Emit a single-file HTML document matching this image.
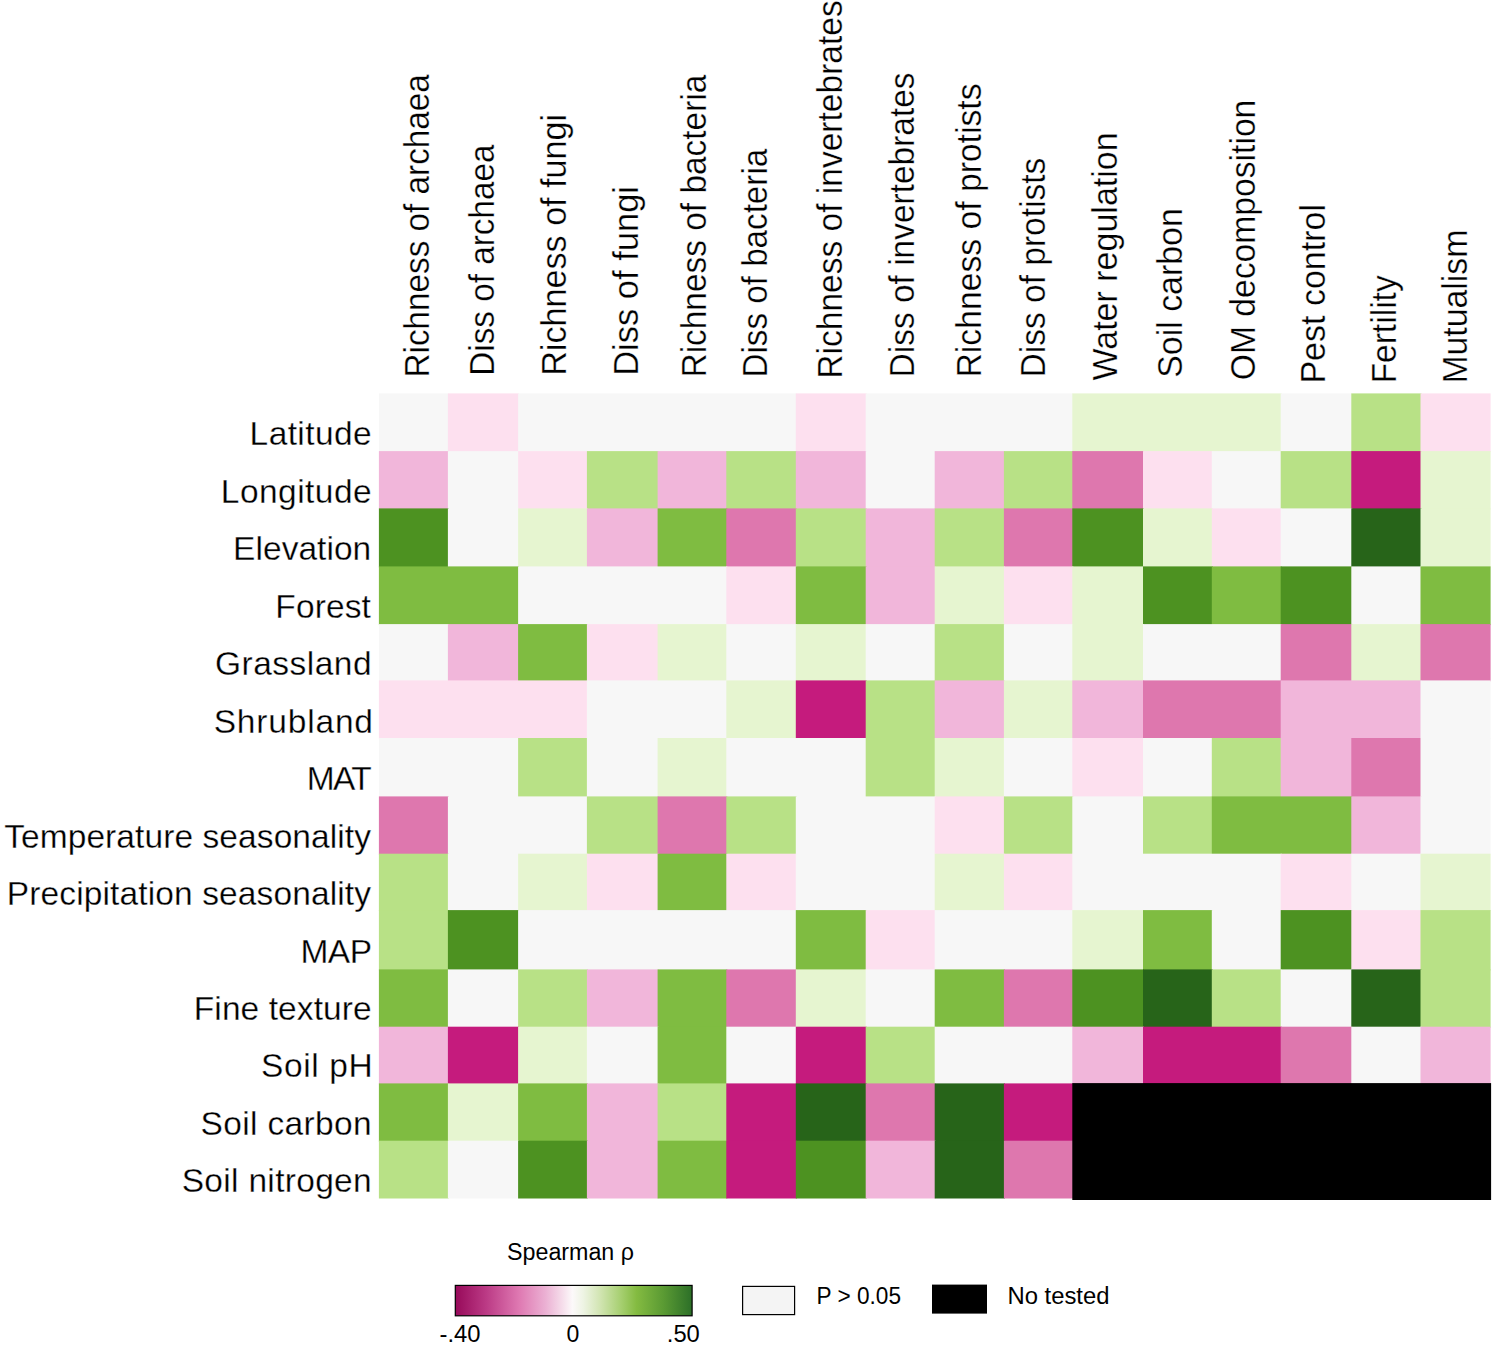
<!DOCTYPE html>
<html lang="en"><head><meta charset="utf-8"><title>Spearman correlation heatmap</title>
<style>
html,body{margin:0;padding:0;background:#fff;}
body{width:1495px;height:1352px;overflow:hidden;}
svg{display:block;}
text{font-family:"Liberation Sans",Arial,Helvetica,sans-serif;fill:#000;}
.rl{font-size:33.5px;text-anchor:end;stroke:#fff;stroke-width:0.3px;paint-order:fill stroke;}
.cl{font-size:34.2px;text-anchor:start;stroke:#fff;stroke-width:0.3px;paint-order:fill stroke;}
.lg{font-size:23px;}
</style></head><body>
<svg width="1495" height="1352" viewBox="0 0 1495 1352" role="img" aria-label="Spearman correlation heat map">
<defs><linearGradient id="piyg" x1="0" y1="0" x2="1" y2="0">
<stop offset="0" stop-color="#970a5a"/>
<stop offset="0.13" stop-color="#bb3a85"/>
<stop offset="0.27" stop-color="#df79b2"/>
<stop offset="0.38" stop-color="#ebb0d3"/>
<stop offset="0.45" stop-color="#f5dcea"/>
<stop offset="0.495" stop-color="#fcf9fa"/>
<stop offset="0.54" stop-color="#eef4e4"/>
<stop offset="0.61" stop-color="#d2e5b3"/>
<stop offset="0.7" stop-color="#a6cf70"/>
<stop offset="0.765" stop-color="#84bb41"/>
<stop offset="0.88" stop-color="#5a9a33"/>
<stop offset="1" stop-color="#2c6f28"/>
</linearGradient></defs>
<rect x="0" y="0" width="1495" height="1352" fill="#ffffff"/>
<g>
<rect x="378.9" y="393.4" width="70.0" height="58.7" fill="#f7f7f7"/>
<rect x="447.9" y="393.4" width="71.2" height="58.7" fill="#fde0ef"/>
<rect x="518.1" y="393.4" width="278.7" height="58.7" fill="#f7f7f7"/>
<rect x="795.8" y="393.4" width="70.9" height="58.7" fill="#fde0ef"/>
<rect x="865.7" y="393.4" width="207.6" height="58.7" fill="#f7f7f7"/>
<rect x="1072.3" y="393.4" width="209.4" height="58.7" fill="#e6f5d0"/>
<rect x="1280.7" y="393.4" width="71.6" height="58.7" fill="#f7f7f7"/>
<rect x="1351.3" y="393.4" width="70.2" height="58.7" fill="#b8e186"/>
<rect x="1420.5" y="393.4" width="70.1" height="58.7" fill="#fde0ef"/>
<rect x="378.9" y="451.1" width="70.0" height="58.3" fill="#f1b6da"/>
<rect x="447.9" y="451.1" width="71.2" height="58.3" fill="#f7f7f7"/>
<rect x="518.1" y="451.1" width="69.8" height="58.3" fill="#fde0ef"/>
<rect x="586.9" y="451.1" width="71.7" height="58.3" fill="#b8e186"/>
<rect x="657.6" y="451.1" width="69.7" height="58.3" fill="#f1b6da"/>
<rect x="726.3" y="451.1" width="70.5" height="58.3" fill="#b8e186"/>
<rect x="795.8" y="451.1" width="70.9" height="58.3" fill="#f1b6da"/>
<rect x="865.7" y="451.1" width="70.0" height="58.3" fill="#f7f7f7"/>
<rect x="934.7" y="451.1" width="70.2" height="58.3" fill="#f1b6da"/>
<rect x="1003.9" y="451.1" width="69.4" height="58.3" fill="#b8e186"/>
<rect x="1072.3" y="451.1" width="71.7" height="58.3" fill="#de77ae"/>
<rect x="1143.0" y="451.1" width="69.8" height="58.3" fill="#fde0ef"/>
<rect x="1211.8" y="451.1" width="69.9" height="58.3" fill="#f7f7f7"/>
<rect x="1280.7" y="451.1" width="71.6" height="58.3" fill="#b8e186"/>
<rect x="1351.3" y="451.1" width="70.2" height="58.3" fill="#c51b7d"/>
<rect x="1420.5" y="451.1" width="70.1" height="58.3" fill="#e6f5d0"/>
<rect x="378.9" y="508.4" width="70.0" height="59.0" fill="#4d9221"/>
<rect x="447.9" y="508.4" width="71.2" height="59.0" fill="#f7f7f7"/>
<rect x="518.1" y="508.4" width="69.8" height="59.0" fill="#e6f5d0"/>
<rect x="586.9" y="508.4" width="71.7" height="59.0" fill="#f1b6da"/>
<rect x="657.6" y="508.4" width="69.7" height="59.0" fill="#7fbc41"/>
<rect x="726.3" y="508.4" width="70.5" height="59.0" fill="#de77ae"/>
<rect x="795.8" y="508.4" width="70.9" height="59.0" fill="#b8e186"/>
<rect x="865.7" y="508.4" width="70.0" height="59.0" fill="#f1b6da"/>
<rect x="934.7" y="508.4" width="70.2" height="59.0" fill="#b8e186"/>
<rect x="1003.9" y="508.4" width="69.4" height="59.0" fill="#de77ae"/>
<rect x="1072.3" y="508.4" width="71.7" height="59.0" fill="#4d9221"/>
<rect x="1143.0" y="508.4" width="69.8" height="59.0" fill="#e6f5d0"/>
<rect x="1211.8" y="508.4" width="69.9" height="59.0" fill="#fde0ef"/>
<rect x="1280.7" y="508.4" width="71.6" height="59.0" fill="#f7f7f7"/>
<rect x="1351.3" y="508.4" width="70.2" height="59.0" fill="#276419"/>
<rect x="1420.5" y="508.4" width="70.1" height="59.0" fill="#e6f5d0"/>
<rect x="378.9" y="566.4" width="140.2" height="58.7" fill="#7fbc41"/>
<rect x="518.1" y="566.4" width="209.2" height="58.7" fill="#f7f7f7"/>
<rect x="726.3" y="566.4" width="70.5" height="58.7" fill="#fde0ef"/>
<rect x="795.8" y="566.4" width="70.9" height="58.7" fill="#7fbc41"/>
<rect x="865.7" y="566.4" width="70.0" height="58.7" fill="#f1b6da"/>
<rect x="934.7" y="566.4" width="70.2" height="58.7" fill="#e6f5d0"/>
<rect x="1003.9" y="566.4" width="69.4" height="58.7" fill="#fde0ef"/>
<rect x="1072.3" y="566.4" width="71.7" height="58.7" fill="#e6f5d0"/>
<rect x="1143.0" y="566.4" width="69.8" height="58.7" fill="#4d9221"/>
<rect x="1211.8" y="566.4" width="69.9" height="58.7" fill="#7fbc41"/>
<rect x="1280.7" y="566.4" width="71.6" height="58.7" fill="#4d9221"/>
<rect x="1351.3" y="566.4" width="70.2" height="58.7" fill="#f7f7f7"/>
<rect x="1420.5" y="566.4" width="70.1" height="58.7" fill="#7fbc41"/>
<rect x="378.9" y="624.1" width="70.0" height="57.3" fill="#f7f7f7"/>
<rect x="447.9" y="624.1" width="71.2" height="57.3" fill="#f1b6da"/>
<rect x="518.1" y="624.1" width="69.8" height="57.3" fill="#7fbc41"/>
<rect x="586.9" y="624.1" width="71.7" height="57.3" fill="#fde0ef"/>
<rect x="657.6" y="624.1" width="69.7" height="57.3" fill="#e6f5d0"/>
<rect x="726.3" y="624.1" width="70.5" height="57.3" fill="#f7f7f7"/>
<rect x="795.8" y="624.1" width="70.9" height="57.3" fill="#e6f5d0"/>
<rect x="865.7" y="624.1" width="70.0" height="57.3" fill="#f7f7f7"/>
<rect x="934.7" y="624.1" width="70.2" height="57.3" fill="#b8e186"/>
<rect x="1003.9" y="624.1" width="69.4" height="57.3" fill="#f7f7f7"/>
<rect x="1072.3" y="624.1" width="71.7" height="57.3" fill="#e6f5d0"/>
<rect x="1143.0" y="624.1" width="138.7" height="57.3" fill="#f7f7f7"/>
<rect x="1280.7" y="624.1" width="71.6" height="57.3" fill="#de77ae"/>
<rect x="1351.3" y="624.1" width="70.2" height="57.3" fill="#e6f5d0"/>
<rect x="1420.5" y="624.1" width="70.1" height="57.3" fill="#de77ae"/>
<rect x="378.9" y="680.4" width="209.0" height="58.6" fill="#fde0ef"/>
<rect x="586.9" y="680.4" width="140.4" height="58.6" fill="#f7f7f7"/>
<rect x="726.3" y="680.4" width="70.5" height="58.6" fill="#e6f5d0"/>
<rect x="795.8" y="680.4" width="70.9" height="58.6" fill="#c51b7d"/>
<rect x="865.7" y="680.4" width="70.0" height="58.6" fill="#b8e186"/>
<rect x="934.7" y="680.4" width="70.2" height="58.6" fill="#f1b6da"/>
<rect x="1003.9" y="680.4" width="69.4" height="58.6" fill="#e6f5d0"/>
<rect x="1072.3" y="680.4" width="71.7" height="58.6" fill="#f1b6da"/>
<rect x="1143.0" y="680.4" width="138.7" height="58.6" fill="#de77ae"/>
<rect x="1280.7" y="680.4" width="140.8" height="58.6" fill="#f1b6da"/>
<rect x="1420.5" y="680.4" width="70.1" height="58.6" fill="#f7f7f7"/>
<rect x="378.9" y="738.0" width="140.2" height="59.4" fill="#f7f7f7"/>
<rect x="518.1" y="738.0" width="69.8" height="59.4" fill="#b8e186"/>
<rect x="586.9" y="738.0" width="71.7" height="59.4" fill="#f7f7f7"/>
<rect x="657.6" y="738.0" width="69.7" height="59.4" fill="#e6f5d0"/>
<rect x="726.3" y="738.0" width="140.4" height="59.4" fill="#f7f7f7"/>
<rect x="865.7" y="738.0" width="70.0" height="59.4" fill="#b8e186"/>
<rect x="934.7" y="738.0" width="70.2" height="59.4" fill="#e6f5d0"/>
<rect x="1003.9" y="738.0" width="69.4" height="59.4" fill="#f7f7f7"/>
<rect x="1072.3" y="738.0" width="71.7" height="59.4" fill="#fde0ef"/>
<rect x="1143.0" y="738.0" width="69.8" height="59.4" fill="#f7f7f7"/>
<rect x="1211.8" y="738.0" width="69.9" height="59.4" fill="#b8e186"/>
<rect x="1280.7" y="738.0" width="71.6" height="59.4" fill="#f1b6da"/>
<rect x="1351.3" y="738.0" width="70.2" height="59.4" fill="#de77ae"/>
<rect x="1420.5" y="738.0" width="70.1" height="59.4" fill="#f7f7f7"/>
<rect x="378.9" y="796.4" width="70.0" height="58.3" fill="#de77ae"/>
<rect x="447.9" y="796.4" width="140.0" height="58.3" fill="#f7f7f7"/>
<rect x="586.9" y="796.4" width="71.7" height="58.3" fill="#b8e186"/>
<rect x="657.6" y="796.4" width="69.7" height="58.3" fill="#de77ae"/>
<rect x="726.3" y="796.4" width="70.5" height="58.3" fill="#b8e186"/>
<rect x="795.8" y="796.4" width="139.9" height="58.3" fill="#f7f7f7"/>
<rect x="934.7" y="796.4" width="70.2" height="58.3" fill="#fde0ef"/>
<rect x="1003.9" y="796.4" width="69.4" height="58.3" fill="#b8e186"/>
<rect x="1072.3" y="796.4" width="71.7" height="58.3" fill="#f7f7f7"/>
<rect x="1143.0" y="796.4" width="69.8" height="58.3" fill="#b8e186"/>
<rect x="1211.8" y="796.4" width="140.5" height="58.3" fill="#7fbc41"/>
<rect x="1351.3" y="796.4" width="70.2" height="58.3" fill="#f1b6da"/>
<rect x="1420.5" y="796.4" width="70.1" height="58.3" fill="#f7f7f7"/>
<rect x="378.9" y="853.7" width="70.0" height="57.4" fill="#b8e186"/>
<rect x="447.9" y="853.7" width="71.2" height="57.4" fill="#f7f7f7"/>
<rect x="518.1" y="853.7" width="69.8" height="57.4" fill="#e6f5d0"/>
<rect x="586.9" y="853.7" width="71.7" height="57.4" fill="#fde0ef"/>
<rect x="657.6" y="853.7" width="69.7" height="57.4" fill="#7fbc41"/>
<rect x="726.3" y="853.7" width="70.5" height="57.4" fill="#fde0ef"/>
<rect x="795.8" y="853.7" width="139.9" height="57.4" fill="#f7f7f7"/>
<rect x="934.7" y="853.7" width="70.2" height="57.4" fill="#e6f5d0"/>
<rect x="1003.9" y="853.7" width="69.4" height="57.4" fill="#fde0ef"/>
<rect x="1072.3" y="853.7" width="209.4" height="57.4" fill="#f7f7f7"/>
<rect x="1280.7" y="853.7" width="71.6" height="57.4" fill="#fde0ef"/>
<rect x="1351.3" y="853.7" width="70.2" height="57.4" fill="#f7f7f7"/>
<rect x="1420.5" y="853.7" width="70.1" height="57.4" fill="#e6f5d0"/>
<rect x="378.9" y="910.1" width="70.0" height="60.3" fill="#b8e186"/>
<rect x="447.9" y="910.1" width="71.2" height="60.3" fill="#4d9221"/>
<rect x="518.1" y="910.1" width="278.7" height="60.3" fill="#f7f7f7"/>
<rect x="795.8" y="910.1" width="70.9" height="60.3" fill="#7fbc41"/>
<rect x="865.7" y="910.1" width="70.0" height="60.3" fill="#fde0ef"/>
<rect x="934.7" y="910.1" width="138.6" height="60.3" fill="#f7f7f7"/>
<rect x="1072.3" y="910.1" width="71.7" height="60.3" fill="#e6f5d0"/>
<rect x="1143.0" y="910.1" width="69.8" height="60.3" fill="#7fbc41"/>
<rect x="1211.8" y="910.1" width="69.9" height="60.3" fill="#f7f7f7"/>
<rect x="1280.7" y="910.1" width="71.6" height="60.3" fill="#4d9221"/>
<rect x="1351.3" y="910.1" width="70.2" height="60.3" fill="#fde0ef"/>
<rect x="1420.5" y="910.1" width="70.1" height="60.3" fill="#b8e186"/>
<rect x="378.9" y="969.4" width="70.0" height="58.3" fill="#7fbc41"/>
<rect x="447.9" y="969.4" width="71.2" height="58.3" fill="#f7f7f7"/>
<rect x="518.1" y="969.4" width="69.8" height="58.3" fill="#b8e186"/>
<rect x="586.9" y="969.4" width="71.7" height="58.3" fill="#f1b6da"/>
<rect x="657.6" y="969.4" width="69.7" height="58.3" fill="#7fbc41"/>
<rect x="726.3" y="969.4" width="70.5" height="58.3" fill="#de77ae"/>
<rect x="795.8" y="969.4" width="70.9" height="58.3" fill="#e6f5d0"/>
<rect x="865.7" y="969.4" width="70.0" height="58.3" fill="#f7f7f7"/>
<rect x="934.7" y="969.4" width="70.2" height="58.3" fill="#7fbc41"/>
<rect x="1003.9" y="969.4" width="69.4" height="58.3" fill="#de77ae"/>
<rect x="1072.3" y="969.4" width="71.7" height="58.3" fill="#4d9221"/>
<rect x="1143.0" y="969.4" width="69.8" height="58.3" fill="#276419"/>
<rect x="1211.8" y="969.4" width="69.9" height="58.3" fill="#b8e186"/>
<rect x="1280.7" y="969.4" width="71.6" height="58.3" fill="#f7f7f7"/>
<rect x="1351.3" y="969.4" width="70.2" height="58.3" fill="#276419"/>
<rect x="1420.5" y="969.4" width="70.1" height="58.3" fill="#b8e186"/>
<rect x="378.9" y="1026.7" width="70.0" height="57.7" fill="#f1b6da"/>
<rect x="447.9" y="1026.7" width="71.2" height="57.7" fill="#c51b7d"/>
<rect x="518.1" y="1026.7" width="69.8" height="57.7" fill="#e6f5d0"/>
<rect x="586.9" y="1026.7" width="71.7" height="57.7" fill="#f7f7f7"/>
<rect x="657.6" y="1026.7" width="69.7" height="57.7" fill="#7fbc41"/>
<rect x="726.3" y="1026.7" width="70.5" height="57.7" fill="#f7f7f7"/>
<rect x="795.8" y="1026.7" width="70.9" height="57.7" fill="#c51b7d"/>
<rect x="865.7" y="1026.7" width="70.0" height="57.7" fill="#b8e186"/>
<rect x="934.7" y="1026.7" width="138.6" height="57.7" fill="#f7f7f7"/>
<rect x="1072.3" y="1026.7" width="71.7" height="57.7" fill="#f1b6da"/>
<rect x="1143.0" y="1026.7" width="138.7" height="57.7" fill="#c51b7d"/>
<rect x="1280.7" y="1026.7" width="71.6" height="57.7" fill="#de77ae"/>
<rect x="1351.3" y="1026.7" width="70.2" height="57.7" fill="#f7f7f7"/>
<rect x="1420.5" y="1026.7" width="70.1" height="57.7" fill="#f1b6da"/>
<rect x="378.9" y="1083.4" width="70.0" height="58.3" fill="#7fbc41"/>
<rect x="447.9" y="1083.4" width="71.2" height="58.3" fill="#e6f5d0"/>
<rect x="518.1" y="1083.4" width="69.8" height="58.3" fill="#7fbc41"/>
<rect x="586.9" y="1083.4" width="71.7" height="58.3" fill="#f1b6da"/>
<rect x="657.6" y="1083.4" width="69.7" height="58.3" fill="#b8e186"/>
<rect x="726.3" y="1083.4" width="70.5" height="58.3" fill="#c51b7d"/>
<rect x="795.8" y="1083.4" width="70.9" height="58.3" fill="#276419"/>
<rect x="865.7" y="1083.4" width="70.0" height="58.3" fill="#de77ae"/>
<rect x="934.7" y="1083.4" width="70.2" height="58.3" fill="#276419"/>
<rect x="1003.9" y="1083.4" width="69.4" height="58.3" fill="#c51b7d"/>
<rect x="378.9" y="1140.7" width="70.0" height="57.8" fill="#b8e186"/>
<rect x="447.9" y="1140.7" width="71.2" height="57.8" fill="#f7f7f7"/>
<rect x="518.1" y="1140.7" width="69.8" height="57.8" fill="#4d9221"/>
<rect x="586.9" y="1140.7" width="71.7" height="57.8" fill="#f1b6da"/>
<rect x="657.6" y="1140.7" width="69.7" height="57.8" fill="#7fbc41"/>
<rect x="726.3" y="1140.7" width="70.5" height="57.8" fill="#c51b7d"/>
<rect x="795.8" y="1140.7" width="70.9" height="57.8" fill="#4d9221"/>
<rect x="865.7" y="1140.7" width="70.0" height="57.8" fill="#f1b6da"/>
<rect x="934.7" y="1140.7" width="70.2" height="57.8" fill="#276419"/>
<rect x="1003.9" y="1140.7" width="69.4" height="57.8" fill="#de77ae"/>
<rect x="1072.3" y="1083.1" width="418.8" height="116.9" fill="#000000"/>
</g>
<g class="rl">
<text id="r0" x="371.60" y="445.30" textLength="121.98" lengthAdjust="spacing">Latitude</text>
<text id="r1" x="371.60" y="502.77" textLength="150.77" lengthAdjust="spacing">Longitude</text>
<text id="r2" x="371.20" y="560.24" textLength="138.11" lengthAdjust="spacing">Elevation</text>
<text id="r3" x="370.80" y="617.71" textLength="95.45" lengthAdjust="spacing">Forest</text>
<text id="r4" x="371.60" y="675.18" textLength="156.59" lengthAdjust="spacing">Grassland</text>
<text id="r5" x="373.00" y="732.65" textLength="159.33" lengthAdjust="spacing">Shrubland</text>
<text id="r6" x="371.72" y="790.12" textLength="64.95" lengthAdjust="spacing">MAT</text>
<text id="r7" x="371.00" y="847.59" textLength="366.87" lengthAdjust="spacing">Temperature seasonality</text>
<text id="r8" x="371.00" y="905.06" textLength="364.17" lengthAdjust="spacing">Precipitation seasonality</text>
<text id="r9" x="372.00" y="962.53" textLength="71.51" lengthAdjust="spacing">MAP</text>
<text id="r10" x="371.60" y="1020.00" textLength="177.79" lengthAdjust="spacing">Fine texture</text>
<text id="r11" x="372.70" y="1077.47" textLength="111.80" lengthAdjust="spacing">Soil pH</text>
<text id="r12" x="371.70" y="1134.94" textLength="171.21" lengthAdjust="spacing">Soil carbon</text>
<text id="r13" x="371.70" y="1192.41" textLength="190.03" lengthAdjust="spacing">Soil nitrogen</text>
</g>
<g class="cl">
<text id="c0" transform="translate(429.20 377.50) rotate(-90)" textLength="303.37" lengthAdjust="spacingAndGlyphs">Richness of archaea</text>
<text id="c1" transform="translate(493.80 375.80) rotate(-90)" textLength="231.23" lengthAdjust="spacingAndGlyphs">Diss of archaea</text>
<text id="c2" transform="translate(566.00 375.80) rotate(-90)" textLength="261.95" lengthAdjust="spacingAndGlyphs">Richness of fungi</text>
<text id="c3" transform="translate(637.50 375.80) rotate(-90)" textLength="189.83" lengthAdjust="spacingAndGlyphs">Diss of fungi</text>
<text id="c4" transform="translate(706.20 377.50) rotate(-90)" textLength="302.85" lengthAdjust="spacingAndGlyphs">Richness of bacteria</text>
<text id="c5" transform="translate(766.60 377.50) rotate(-90)" textLength="228.71" lengthAdjust="spacingAndGlyphs">Diss of bacteria</text>
<text id="c6" transform="translate(841.60 378.70) rotate(-90)" textLength="378.42" lengthAdjust="spacingAndGlyphs">Richness of invertebrates</text>
<text id="c7" transform="translate(913.60 377.40) rotate(-90)" textLength="305.02" lengthAdjust="spacingAndGlyphs">Diss of invertebrates</text>
<text id="c8" transform="translate(981.10 377.50) rotate(-90)" textLength="294.01" lengthAdjust="spacingAndGlyphs">Richness of protists</text>
<text id="c9" transform="translate(1045.10 377.40) rotate(-90)" textLength="219.73" lengthAdjust="spacingAndGlyphs">Diss of protists</text>
<text id="c10" transform="translate(1116.80 380.60) rotate(-90)" textLength="248.26" lengthAdjust="spacingAndGlyphs">Water regulation</text>
<text id="c11" transform="translate(1181.60 377.72) rotate(-90)" textLength="169.45" lengthAdjust="spacingAndGlyphs">Soil carbon</text>
<text id="c12" transform="translate(1255.20 380.30) rotate(-90)" textLength="280.63" lengthAdjust="spacingAndGlyphs">OM decomposition</text>
<text id="c13" transform="translate(1324.70 383.60) rotate(-90)" textLength="179.61" lengthAdjust="spacingAndGlyphs">Pest control</text>
<text id="c14" transform="translate(1396.10 383.60) rotate(-90)" textLength="108.37" lengthAdjust="spacingAndGlyphs">Fertility</text>
<text id="c15" transform="translate(1466.70 383.60) rotate(-90)" textLength="153.98" lengthAdjust="spacingAndGlyphs">Mutualism</text>
</g>
<g class="lg">
<text x="507" y="1260.2" textLength="127" lengthAdjust="spacingAndGlyphs">Spearman ρ</text>
<rect x="455.3" y="1285.4" width="236.8" height="30.4" fill="url(#piyg)" stroke="#000" stroke-width="1.2"/>
<text x="439.6" y="1342" textLength="41" lengthAdjust="spacingAndGlyphs">-.40</text>
<text x="566.6" y="1342" textLength="12.8" lengthAdjust="spacingAndGlyphs">0</text>
<text x="666.8" y="1342" textLength="33" lengthAdjust="spacingAndGlyphs">.50</text>
<rect x="742.6" y="1286.4" width="52" height="28.2" fill="#f4f4f4" stroke="#000" stroke-width="1.2"/>
<text x="816.5" y="1303.8" textLength="84.5" lengthAdjust="spacingAndGlyphs">P &gt; 0.05</text>
<rect x="932" y="1284.6" width="55" height="29" fill="#000"/>
<text x="1007.5" y="1303.8" textLength="102" lengthAdjust="spacingAndGlyphs">No tested</text>
</g>
</svg>
</body></html>
